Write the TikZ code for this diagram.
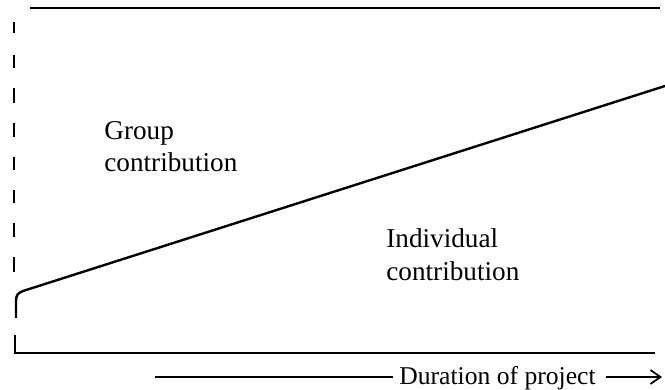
\documentclass[tikz,border=0pt]{standalone}
\usepackage{fontspec}
\setmainfont{Liberation Serif}
\usetikzlibrary{arrows.meta}
\begin{document}
\begin{tikzpicture}[x=0.5pt,y=-0.5pt,
  rule/.style={line width=0.9pt},
  curve/.style={line width=1.2pt, line join=round},
  lbl/.style={anchor=base west, inner sep=0pt, font=\fontsize{13.6}{16}\selectfont},
  axlbl/.style={anchor=base west, inner sep=0pt, font=\fontsize{12.8}{15}\selectfont}]
\useasboundingbox (0,0) rectangle (665,390);
% top rule
\draw[rule] (30,8) -- (660,8);
% dashed left axis
\foreach \a/\b in {22/33,55/68,88/103,123/137,157/170,190/203,223/237,257/272}
  \draw[rule] (14,\a) -- (14,\b);
% bottom-left L
\coordinate (bl) at (15,353);
\draw[rule] (15,335) -- (bl) -- (655,353);
% diagonal line
\coordinate (d0) at (16,318);
\coordinate (d1) at (665,86);
\draw[curve] (d0) -- (16,301) .. controls (16,295) and (18,293) .. (23,291) -- (d1);
% labels
\node[lbl] (g1) at (104,140) {Group};
\node[lbl] (g2) at (104,172) {contribution};
\node[lbl] (i1) at (386,248) {Individual};
\node[lbl] (i2) at (386,281) {contribution};
% duration axis
\node[axlbl] (dur) at (399,384) {Duration of project};
\coordinate (a0) at (155,377);
\draw[rule] (a0) -- ([xshift=-3pt]dur.west |- a0);
\coordinate (a1) at (662,377);
\draw[rule, -{Straight Barb[length=5pt,width=7pt]}] ([xshift=5pt]dur.east |- a1) -- (a1);
\end{tikzpicture}
\end{document}
